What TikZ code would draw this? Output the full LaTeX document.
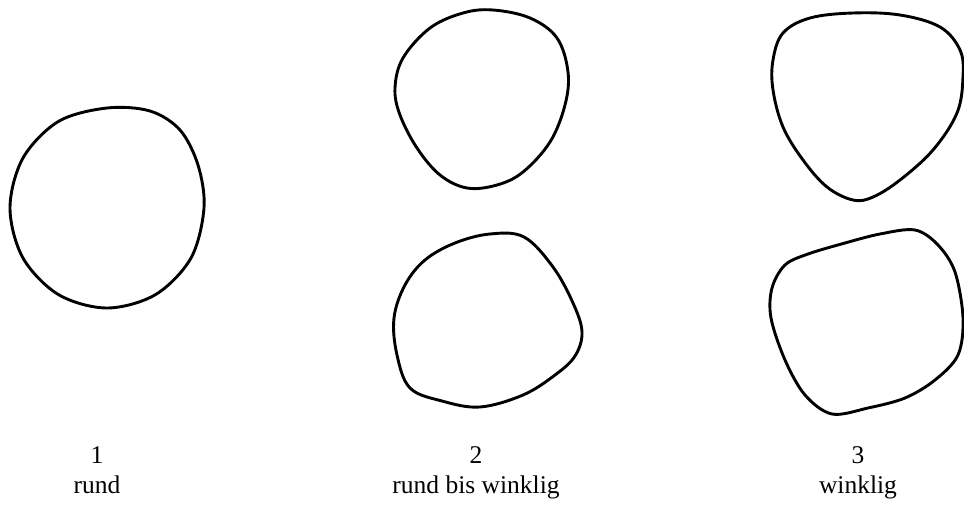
\documentclass[tikz,border=0pt]{standalone}
\usepackage{fontspec}
\setmainfont{Liberation Serif}
\begin{document}
\begin{tikzpicture}[x=1pt,y=-1pt,
  outline/.style={draw=black,line width=2.9pt,line join=round},
  lbl/.style={anchor=base,inner sep=0pt,font=\fontsize{25.5}{30}\selectfont}]
\useasboundingbox[fill=white] (0,0) rectangle (964,506);
% shape 1
\draw[outline] plot[smooth cycle,tension=0.55] coordinates {(107,108) (150,111) (180,130) (198,165) (204,208) (191,258) (155.5,294.6) (107,308) (58.5,294.6) (23,258) (10,208) (23,158) (58.5,121.4)};
% shape 2 top
\draw[outline] plot[smooth cycle,tension=0.6] coordinates {(493,10) (530,18) (557,38) (568,72) (565,105) (550,142) (523,172) (497,185) (467,188) (440,175) (417,148) (400,115) (395,88) (403,58) (430,28) (463,13)};
% shape 2 bottom
\draw[outline] plot[smooth cycle,tension=0.6] coordinates {(490,234) (524,237) (553,267) (573,303) (582,332) (575,356) (555,375) (523,395) (480,407) (442,401) (410,388) (397,355) (394,318) (405,285) (425,260) (455,243)};
% shape 3 top
\draw[outline] plot[smooth cycle,tension=0.6] coordinates {(853,13) (900,15) (940,27) (960,50) (963,77) (957,113) (933,150) (900,180) (873,197) (853,200) (827,187) (803,160) (783,127) (773,90) (773,60) (783,33) (810,18)};
% shape 3 bottom
\draw[outline] plot[smooth cycle,tension=0.55] coordinates {(915,230) (938,245) (955,272) (963,318) (958,355) (935,380) (905,398) (868,408) (832,414) (805,395) (785,360) (771,318) (772,288) (785,265) (808,254) (845,243) (880,234)};
% labels
\node[lbl] (n1) at (97,463) {1};
\node[lbl] (t1) at (97,493) {rund};
\node[lbl] (n2) at (476,463) {2};
\node[lbl] (t2) at (476,493) {rund bis winklig};
\node[lbl] (n3) at (858,463) {3};
\node[lbl] (t3) at (858,493) {winklig};
\end{tikzpicture}
\end{document}
